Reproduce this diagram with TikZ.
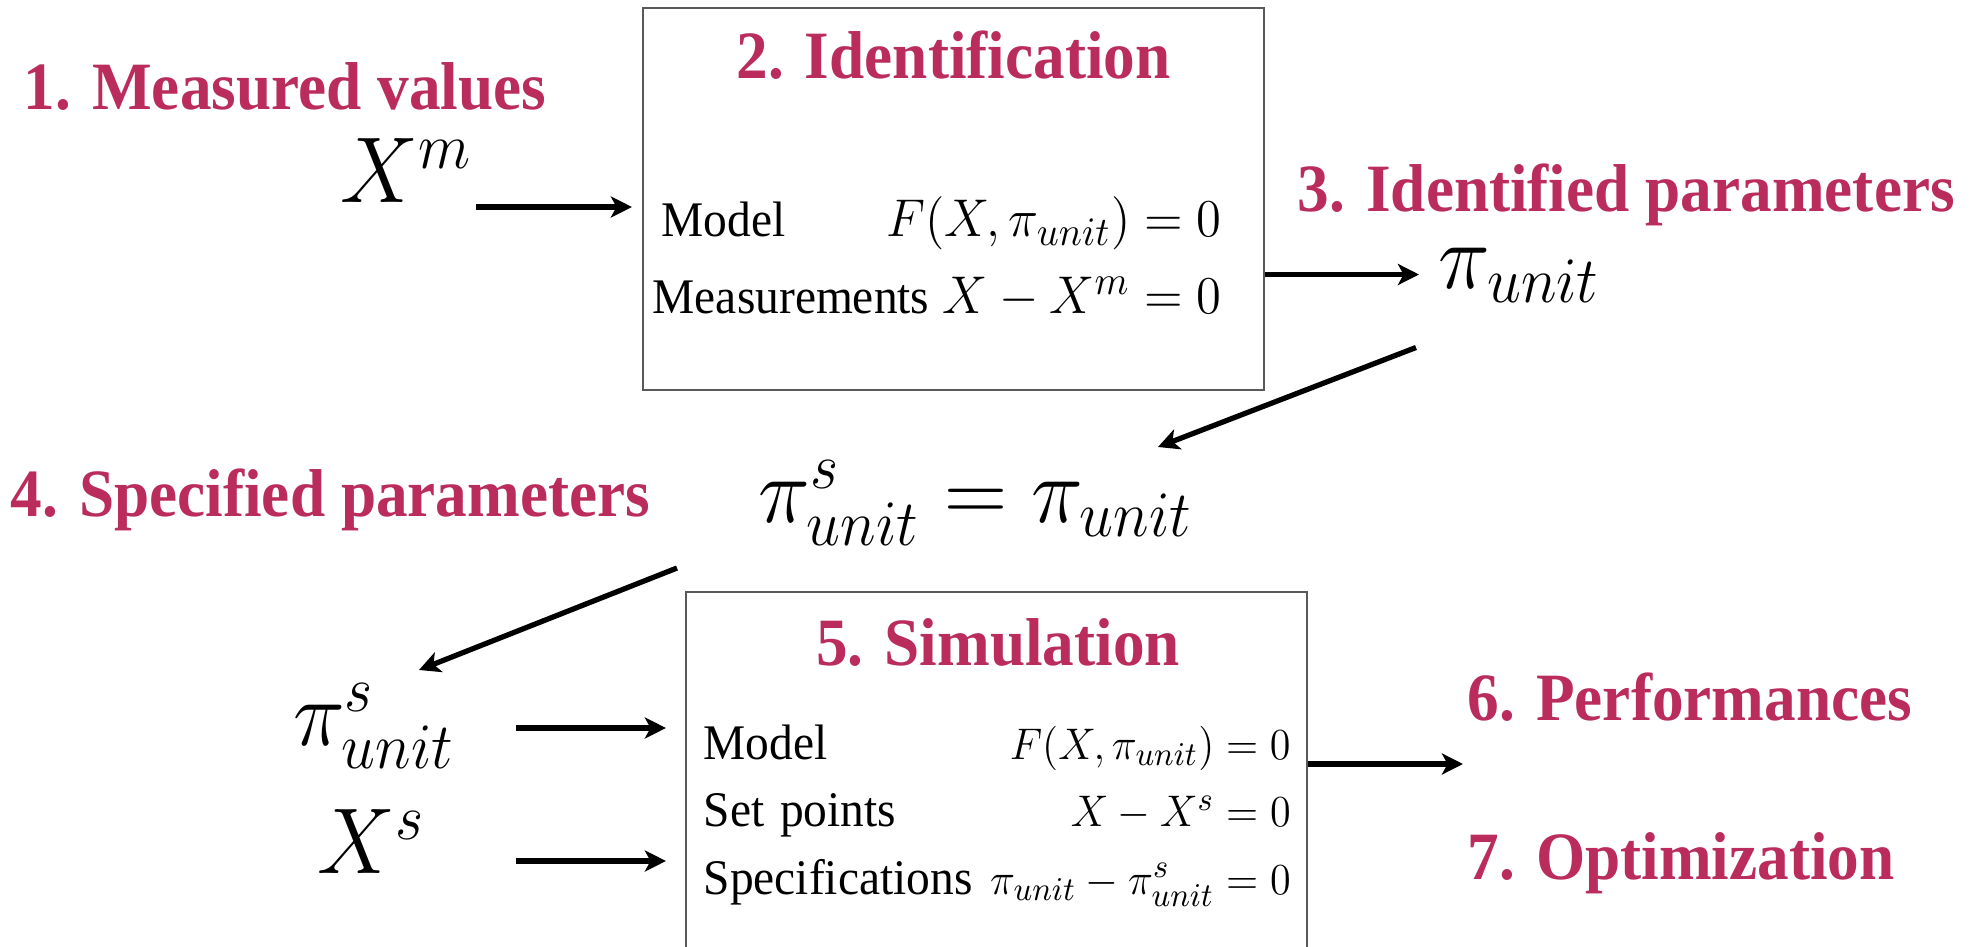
\documentclass[tikz,border=0pt]{standalone}
\usepackage[no-math]{fontspec}
\setmainfont{Liberation Serif}
\usepackage{amsmath}
\usetikzlibrary{arrows.meta,positioning}
\definecolor{stagered}{RGB}{186,44,92}
\newcommand{\eqsz}{15.3}
\newcommand{\eqline}[2]{\makebox[\linewidth][l]{#1\hfill{\fontsize{\eqsz}{18}\selectfont$#2$}}}

\begin{document}
\begin{tikzpicture}[
  x=1cm,
  y=1cm,
  stage/.style={font=\fontsize{18}{22}\selectfont\bfseries, text=stagered, inner sep=0pt, yscale=1.07},
  block/.style={draw=black!65, line width=0.6pt, inner sep=0pt},
  flow/.style={-{Stealth[length=6pt, width=6pt, inset=1.6pt]}, line width=1.5pt},
  bigmath/.style={font=\fontsize{23}{28}\selectfont, inner sep=0pt, yscale=1.07},
  rows/.style={inner sep=0pt, anchor=base west, align=left, yscale=1.05}
]
\useasboundingbox (0,0) rectangle (19.74,9.46);
\clip (0,0) rectangle (19.74,9.46);

% boxes
\node[block, minimum width=6.21cm, minimum height=3.82cm] (ident) at (9.535,7.47) {};
\node[block, minimum width=6.21cm, minimum height=4.6cm, anchor=north] (simu) at (9.965,3.555) {};
\node[stage, anchor=base] (identtitle) at (9.535,8.67) {2. Identification};
\node[stage, anchor=base] (simutitle) at (9.98,2.81) {5. Simulation};

% box contents
\node[rows, text width=5.69cm, font=\fontsize{13.5}{20.7}\selectfont] (identrows) at (6.52,7.09)
  {\eqline{\hspace{0.09cm}Model}{F(X,\pi_{unit})=0}\\
   \eqline{Measurements}{X-X^m=0}};
\node[rows, text width=5.87cm, font=\fontsize{13.5}{18.3}\selectfont] (simurows) at (7.03,1.87)
  {\renewcommand{\eqsz}{12.9}%
   \eqline{Model}{F(X,\pi_{unit})=0}\\
   \eqline{Set points}{X-X^s=0}\\
   \eqline{Specifications}{\pi_{unit}-\pi^s_{unit}=0}};

% stage labels
\node[stage, anchor=base west] (measured) at (0.23,8.365) {1. Measured values};
\node[stage, anchor=base west] (identified) at (12.97,7.345) {3. Identified parameters};
\node[stage, anchor=base west] (specified) at (0.10,4.30) {4. Specified parameters};
\node[stage, anchor=base west] (perf) at (14.67,2.26) {6. Performances};
\node[stage, anchor=base west] (optim) at (14.67,0.67) {7. Optimization};

% quantities
\node[bigmath, anchor=base] (xm) at (4.06,7.44) {$X^m$};
\node[bigmath, anchor=base west] (piunit) at (14.38,6.58) {$\pi_{unit}$};
\node[bigmath, anchor=base] (equal) at (9.755,4.24) {$\pi^s_{unit}=\pi_{unit}$};
\node[bigmath, anchor=base] (pis) at (3.74,2.01) {$\pi^s_{unit}$};
\node[bigmath, anchor=base] (xs) at (3.715,0.73) {$X^s$};

% connectors
\coordinate (xmtail) at (4.76,7.39);
\coordinate (pihead) at (14.19,6.715);
\coordinate (d1tail) at (14.16,5.985);
\coordinate (d1head) at (11.58,4.99);
\coordinate (d2tail) at (6.77,3.78);
\coordinate (d2head) at (4.19,2.76);
\coordinate (pistail) at (5.16,2.18);
\coordinate (xstail) at (5.16,0.85);
\coordinate (perfhead) at (14.63,1.82);

\draw[flow, shorten >=0.1cm] (xmtail) -- (xmtail -| ident.west);
\draw[flow] (pihead -| ident.east) -- (pihead);
\draw[flow] (d1tail) -- (d1head);
\draw[flow] (d2tail) -- (d2head);
\draw[flow, shorten >=0.19cm] (pistail) -- (pistail -| simu.west);
\draw[flow, shorten >=0.19cm] (xstail) -- (xstail -| simu.west);
\draw[flow] (perfhead -| simu.east) -- (perfhead);
\end{tikzpicture}
\end{document}
